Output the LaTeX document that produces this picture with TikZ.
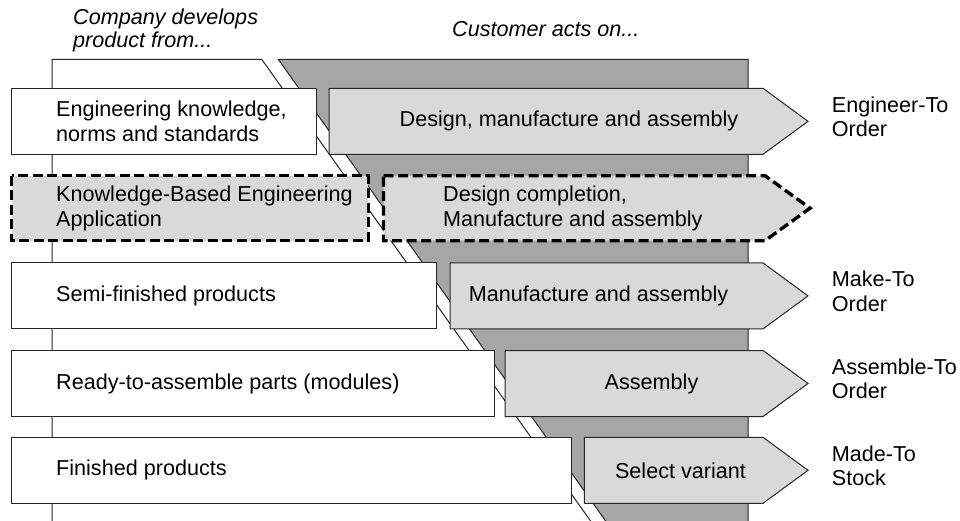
\documentclass[tikz,border=0pt]{standalone}
\usepackage{fontspec}
\setmainfont{Liberation Sans}
\definecolor{funnelgray}{HTML}{A6A6A6}
\definecolor{boxgray}{HTML}{D9D9D9}
\tikzset{
	outline/.style = {draw = black!85, line width = 1pt},
	leftbox/.style = {outline, fill = white},
	orderarrow/.style = {outline, fill = boxgray},
	kbeline/.style = {draw = black, fill = boxgray, line width = 3.4pt, dash pattern = on 10pt off 4.5pt},
	boxtext/.style = {anchor = west, align = left, inner sep = 0pt},
	steptext/.style = {inner sep = 0pt},
	typetext/.style = {anchor = west, align = left, inner sep = 0pt},
	headtext/.style = {inner sep = 0pt, align = left, font = \fontsize{21.6}{23}\selectfont\itshape}
}

\begin{document}
\begin{tikzpicture}[x = 1pt, y = -1pt, font = \fontsize{21.6}{24.5}\selectfont]
	
		\useasboundingbox (0, 0) rectangle (960, 520);
		\clip (0, 0) rectangle (960, 520);
		
		% company side and customer side
		\filldraw[outline, fill = white] (52, 530) -- (52, 59.3) -- (261.7, 59.3) -- (597, 530);
		\filldraw[outline, fill = funnelgray] (612, 530) -- (278.3, 59.3) -- (748, 59.3) -- (748, 530);
		
		\node[headtext, anchor = north west] (company) at (73, 9) {Company develops\\product from...};
		\node[headtext, anchor = base west] (customer) at (452, 36) {Customer acts on...};
		
		% engineer to order
		\filldraw[leftbox] (11, 88.3) rectangle (316, 154.3);
		\filldraw[orderarrow] (329, 88.3) -- (763, 88.3) -- (808, 121.3) -- (763, 154.3) -- (329, 154.3) -- cycle;
		\node[boxtext] (engknow) at (56, 121.3) {Engineering knowledge,\\norms and standards};
		\node[steptext] (design) at (569, 121.3) {Design, manufacture and assembly};
		\node[typetext] (eto) at (831.7, 116.7) {Engineer-To\\Order};
		
		% knowledge-based engineering
		\filldraw[kbeline] (11.7, 175.7) rectangle (368.3, 240.7);
		\filldraw[kbeline] (383.5, 175.7) -- (765, 175.7) -- (810, 208.2) -- (765, 240.7) -- (383.5, 240.7) -- cycle;
		\node[boxtext] (kbe) at (56, 208.2) {Knowledge-Based Engineering\\Application};
		\node[boxtext] (completion) at (443, 208.2) {Design completion,\\Manufacture and assembly};
		
		% make to order
		\filldraw[leftbox] (11, 262.9) rectangle (436.7, 328.9);
		\filldraw[orderarrow] (450, 262.9) -- (763, 262.9) -- (808, 295.9) -- (763, 328.9) -- (450, 328.9) -- cycle;
		\node[boxtext] (semi) at (56, 295.9) {Semi-finished products};
		\node[steptext] (manufacture) at (598.5, 295.9) {Manufacture and assembly};
		\node[typetext] (mto) at (831.7, 291.5) {Make-To\\Order};
		
		% assemble to order
		\filldraw[leftbox] (11, 350.5) rectangle (494, 416.5);
		\filldraw[orderarrow] (505, 350.5) -- (763, 350.5) -- (808, 383.5) -- (763, 416.5) -- (505, 416.5) -- cycle;
		\node[boxtext] (modules) at (56, 383.5) {Ready-to-assemble parts (modules)};
		\node[steptext] (assembly) at (651.5, 383.5) {Assembly};
		\node[typetext] (ato) at (831.7, 379) {Assemble-To\\Order};
		
		% made to stock
		\filldraw[leftbox] (11, 437.3) rectangle (571, 503.3);
		\filldraw[orderarrow] (584.3, 437.3) -- (763, 437.3) -- (808, 470.3) -- (763, 503.3) -- (584.3, 503.3) -- cycle;
		\node[boxtext] (finished) at (56, 470.3) {Finished products};
		\node[steptext] (variant) at (680.5, 470.3) {Select variant};
		\node[typetext] (mts) at (831.7, 466) {Made-To\\Stock};
	
	\end{tikzpicture}
\end{document}
